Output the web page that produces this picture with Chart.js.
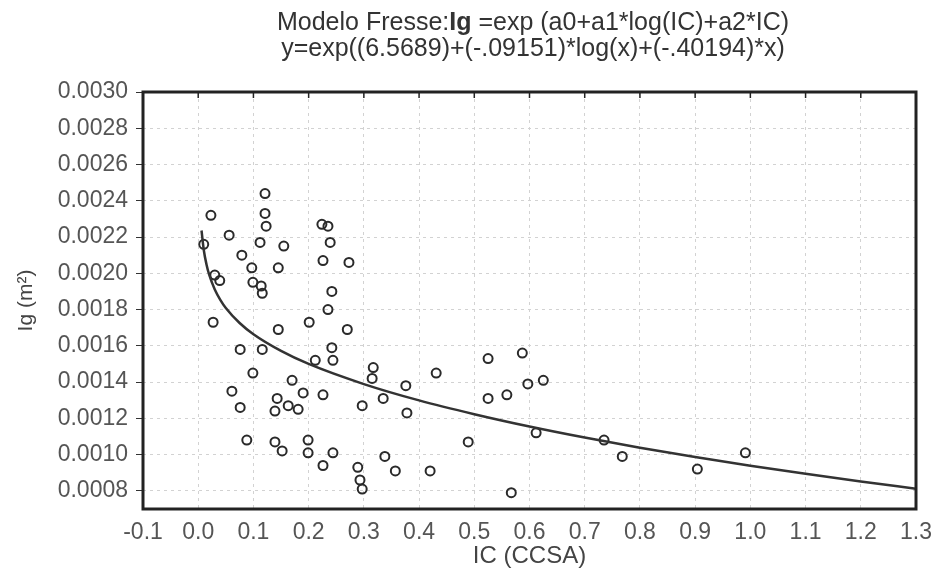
<!DOCTYPE html>
<html>
<head>
<meta charset="utf-8">
<script src="https://cdn.jsdelivr.net/npm/chart.js@4"></script>
<style>
html,body{margin:0;padding:0;background:#fff;}
#wrap{width:935px;height:575px;position:relative;}
</style>
</head>
<body>
<div id="wrap"><canvas id="c" width="935" height="575"></canvas></div>
<script>
// ---- Data ----
const titleLine1Parts = [["Modelo Fresse:", false], ["Ig", true], [" =exp (a0+a1*log(IC)+a2*IC)", false]];
const titleLine2 = "y=exp((6.5689)+(-.09151)*log(x)+(-.40194)*x)";
const xAxisTitle = "IC (CCSA)";
const yAxisTitle = "Ig (m²)";

const xTicks = [-0.1, 0.0, 0.1, 0.2, 0.3, 0.4, 0.5, 0.6, 0.7, 0.8, 0.9, 1.0, 1.1, 1.2, 1.3];
const yTicks = [0.0008, 0.0010, 0.0012, 0.0014, 0.0016, 0.0018, 0.0020, 0.0022, 0.0024, 0.0026, 0.0028, 0.0030];

// observed points (IC, Ig)
const obsX = [0.121,0.121,0.123,0.023,0.056,0.010,0.112,0.155,0.224,0.235,0.239,0.079,0.226,0.273,0.097,0.145,0.039,0.099,0.114,0.116,0.242,0.030,0.027,0.145,0.201,0.235,0.270,0.076,0.116,0.242,0.212,0.244,0.317,0.315,0.376,0.431,0.099,0.170,0.190,0.061,0.226,0.143,0.139,0.163,0.181,0.297,0.335,0.378,0.076,0.088,0.139,0.152,0.199,0.199,0.244,0.226,0.338,0.357,0.420,0.289,0.293,0.297,0.525,0.587,0.597,0.625,0.525,0.559,0.489,0.612,0.735,0.768,0.567,0.904,0.991];
const obsY = [0.00244,0.00233,0.00226,0.00232,0.00221,0.00216,0.00217,0.00215,0.00227,0.00226,0.00217,0.00210,0.00207,0.00206,0.00203,0.00203,0.00196,0.00195,0.00193,0.00189,0.00190,0.00199,0.00173,0.00169,0.00173,0.00180,0.00169,0.00158,0.00158,0.00159,0.00152,0.00152,0.00148,0.00142,0.00138,0.00145,0.00145,0.00141,0.00134,0.00135,0.00133,0.00131,0.00124,0.00127,0.00125,0.00127,0.00131,0.00123,0.00126,0.00108,0.00107,0.00102,0.00108,0.00101,0.00101,0.00094,0.00099,0.00091,0.00091,0.00093,0.00086,0.00081,0.00153,0.00156,0.00139,0.00141,0.00131,0.00133,0.00107,0.00112,0.00108,0.00099,0.00079,0.00092,0.00101];

// fitted curve
const curveX = [0.006,0.010,0.015,0.020,0.030,0.040,0.050,0.075,0.10,0.15,0.20,0.30,0.40,0.50,0.60,0.70,0.80,0.90,1.00,1.10,1.20,1.30];
const curveY = [0.002236,0.002130,0.002049,0.001991,0.001911,0.001854,0.001809,0.001726,0.001664,0.001572,0.001500,0.001389,0.001299,0.001223,0.001155,0.001094,0.001038,0.000987,0.000939,0.000894,0.000852,0.000812];

// ---- Chart ----
const FONT = '"Liberation Sans", Arial, sans-serif';

const richTitle = {
  id: 'richTitle',
  afterDraw(chart) {
    const ctx = chart.ctx;
    const cx = 533;
    ctx.save();
    ctx.fillStyle = '#333';
    ctx.textBaseline = 'middle';
    let total = 0;
    titleLine1Parts.forEach(([s, b]) => {
      ctx.font = (b ? 'bold ' : '') + '25px ' + FONT;
      total += ctx.measureText(s).width;
    });
    let x = cx - total / 2;
    ctx.textAlign = 'left';
    titleLine1Parts.forEach(([s, b]) => {
      ctx.font = (b ? 'bold ' : '') + '25px ' + FONT;
      ctx.fillText(s, x, 23);
      x += ctx.measureText(s).width;
    });
    ctx.textAlign = 'center';
    ctx.font = '25px ' + FONT;
    ctx.fillText(titleLine2, cx, 49);
    ctx.restore();
  }
};

const frame = {
  id: 'frame',
  afterDatasetsDraw(chart) {
    const {ctx, chartArea: a, scales: {x}} = chart;
    ctx.save();
    ctx.strokeStyle = '#222';
    ctx.lineWidth = 1.5;
    x.ticks.forEach(t => {
      const px = x.getPixelForValue(t.value);
      ctx.beginPath(); ctx.moveTo(px, a.top); ctx.lineTo(px, a.top + 6); ctx.stroke();
    });
    ctx.lineWidth = 3;
    ctx.strokeRect(a.left, a.top, a.right - a.left, a.bottom - a.top);
    ctx.restore();
  }
};

new Chart(document.getElementById('c'), {
  data: {
    datasets: [
      {
        type: 'scatter',
        label: 'Ig',
        data: obsX.map((v, i) => ({x: v, y: obsY[i]})),
        pointStyle: 'circle',
        pointRadius: 4.5,
        pointBorderWidth: 2,
        borderColor: '#2a2a2a',
        backgroundColor: 'rgba(255,255,255,0)',
        order: 2
      },
      {
        type: 'line',
        label: 'fit',
        data: curveX.map((v, i) => ({x: v, y: curveY[i]})),
        borderColor: '#333',
        borderWidth: 2.5,
        pointRadius: 0,
        cubicInterpolationMode: 'monotone',
        fill: false,
        order: 1
      }
    ]
  },
  options: {
    responsive: false,
    animation: false,
    layout: {padding: {top: 92, right: 19, left: 14, bottom: 4}},
    plugins: {
      legend: {display: false},
      tooltip: {enabled: false},
      title: {display: false}
    },
    scales: {
      x: {
        type: 'linear',
        min: -0.1, max: 1.3,
        afterBuildTicks: s => { s.ticks = xTicks.map(v => ({value: v})); },
        afterFit: s => { s.height = 62; s.paddingRight = 0; s.paddingLeft = 0; },
        ticks: {
          color: '#555', font: {family: FONT, size: 23}, padding: 10,
          maxRotation: 0, autoSkip: false,
          callback: v => Number(v).toFixed(1)
        },
        grid: {color: '#d2d2d2', drawTicks: false, lineWidth: 1},
        border: {display: false, dash: [3, 4]},
        title: {display: true, text: xAxisTitle, color: '#444', font: {family: FONT, size: 24}, padding: {top: 0, bottom: 0}}
      },
      y: {
        type: 'linear',
        min: 0.0007, max: 0.0030,
        afterBuildTicks: s => { s.ticks = yTicks.map(v => ({value: v})); },
        afterFit: s => { s.width = 129; },
        ticks: {
          color: '#555', font: {family: FONT, size: 23}, padding: 8,
          autoSkip: false,
          callback: v => Number(v).toFixed(4)
        },
        grid: {color: '#d2d2d2', drawTicks: true, tickLength: 7, tickColor: '#333', tickBorderDash: [], lineWidth: 1},
        border: {display: false, dash: [3, 4]},
        title: {display: true, text: yAxisTitle, color: '#444', font: {family: FONT, size: 21}, padding: {top: 0, bottom: 4}}
      }
    }
  },
  plugins: [richTitle, frame]
});
</script>
</body>
</html>
